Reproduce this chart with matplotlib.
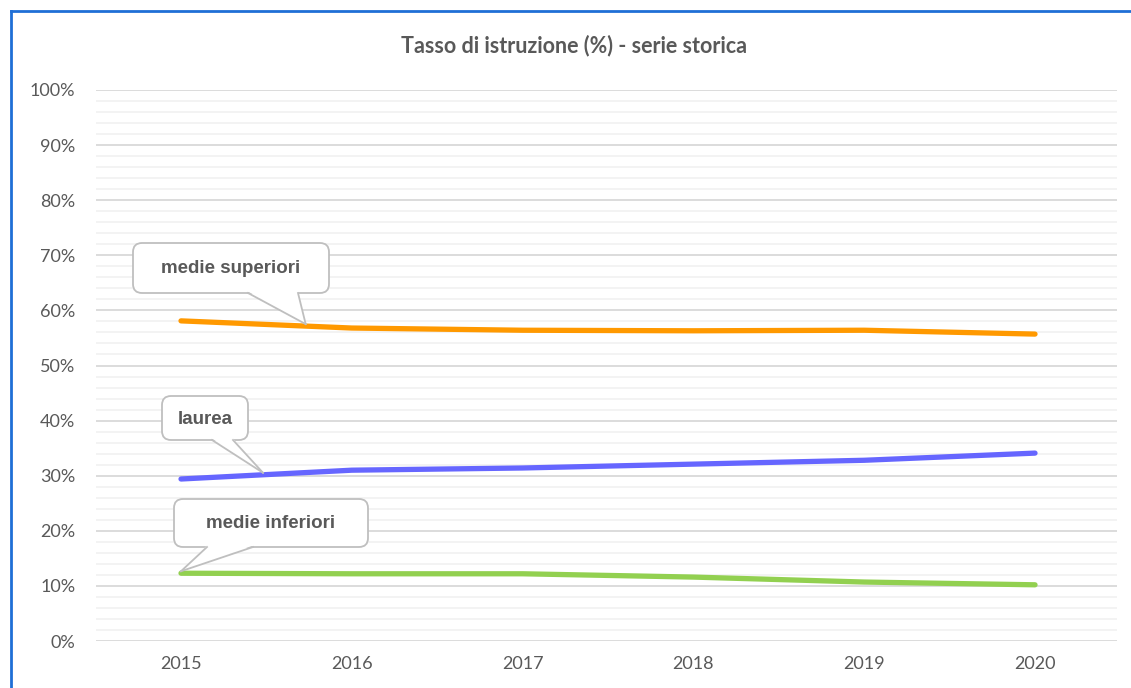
import matplotlib
matplotlib.use("Agg")
import matplotlib.pyplot as plt
from matplotlib.patches import FancyBboxPatch, Polygon
from matplotlib.lines import Line2D
from matplotlib.ticker import MultipleLocator, FuncFormatter

years = ["2015", "2016", "2017", "2018", "2019", "2020"]
medie_superiori = [58.1, 56.8, 56.4, 56.3, 56.4, 55.7]
laurea = [29.4, 31.0, 31.4, 32.1, 32.8, 34.1]
medie_inferiori = [12.3, 12.2, 12.2, 11.6, 10.7, 10.2]

series_labels = ["medie superiori", "laurea", "medie inferiori"]
title = "Tasso di istruzione (%) - serie storica"

W, H = 1131, 688
fig = plt.figure(figsize=(W / 100, H / 100), dpi=100)
fig.patch.set_facecolor("white")

def px(x0, y0, x1, y1):
    return [x0 / W, 1 - y1 / H, (x1 - x0) / W, (y1 - y0) / H]

ax = fig.add_axes(px(96, 90, 1117, 641))
xs = list(range(len(years)))
ax.plot(xs, medie_superiori, color="#FF9900", lw=3.8, solid_capstyle="round", zorder=3)
ax.plot(xs, laurea, color="#6666FF", lw=3.8, solid_capstyle="round", zorder=3)
ax.plot(xs, medie_inferiori, color="#92D050", lw=3.8, solid_capstyle="round", zorder=3)

ax.set_xlim(-0.4977, 5.48)
ax.set_ylim(0, 100)
ax.yaxis.set_major_locator(MultipleLocator(10))
ax.yaxis.set_minor_locator(MultipleLocator(2))
ax.yaxis.set_major_formatter(FuncFormatter(lambda v, p: f"{int(round(v))}%"))
ax.set_xticks(xs)
ax.set_xticklabels(years)
ax.grid(which="major", axis="y", color="#D9D9D9", lw=1.3)
ax.grid(which="minor", axis="y", color="#F2F2F2", lw=1.3)
ax.set_axisbelow(True)
for s in ax.spines.values():
    s.set_visible(False)
ax.tick_params(axis="both", which="both", length=0, labelsize=13, labelcolor="#595959")
ax.tick_params(axis="y", pad=15)
ax.tick_params(axis="x", pad=11)
for lbl in ax.get_xticklabels() + ax.get_yticklabels():
    lbl.set_fontfamily("Lato")

fig.text(574 / W, 1 - 46 / H, title, ha="center", va="center", fontsize=15.5,
         fontweight="bold", color="#595959", family="Lato")

# border (top and left visible)
fig.add_artist(Line2D([11 / W, 1], [1 - 11 / H, 1 - 11 / H], color="#1F6FD6", lw=2, transform=fig.transFigure))
fig.add_artist(Line2D([11 / W, 11 / W], [1 - 11 / H, 0], color="#1F6FD6", lw=2, transform=fig.transFigure))

# callouts: box (pixel coords), tail base (px), tip at data point
fig.canvas.draw()
callouts = [
    (series_labels[0], (133, 243, 329, 293), (248, 298), (0.73, medie_superiori)),
    (series_labels[1], (162, 396, 248, 440), (212, 233), (0.48, laurea)),
    (series_labels[2], (174, 499, 368, 547), (207, 253), (0.0, medie_inferiori)),
]
edge = "#BFBFBF"
for text, (x0, y0, x1, y1), (b0, b1), (tx, vals) in callouts:
    i = int(tx)
    f = tx - i
    ty = vals[i] if f == 0 else vals[i] * (1 - f) + vals[i + 1] * f
    tip = ax.transData.transform((tx, ty))
    box = FancyBboxPatch((x0, H - y1), x1 - x0, y1 - y0,
                         boxstyle="round,pad=0,rounding_size=9",
                         transform=None, facecolor="white", edgecolor=edge,
                         lw=1.3, zorder=10)
    fig.add_artist(box)
    by = H - y1
    tail = Polygon([(b0, by + 1.5), (tip[0], tip[1] + 2), (b1, by + 1.5)], closed=True,
                   transform=None, facecolor="white", edgecolor="none", zorder=11)
    fig.add_artist(tail)
    fig.add_artist(Line2D([b0, tip[0]], [by, tip[1] + 2], color=edge, lw=1.3, transform=None, zorder=12))
    fig.add_artist(Line2D([b1, tip[0]], [by, tip[1] + 2], color=edge, lw=1.3, transform=None, zorder=12))
    fig.text(((x0 + x1) / 2) / W, 1 - ((y0 + y1) / 2 + 1) / H, text, ha="center", va="center",
             fontsize=13.5, fontweight="bold", color="#595959", family="Liberation Sans", zorder=13)

fig.savefig("out.png", dpi=100)
